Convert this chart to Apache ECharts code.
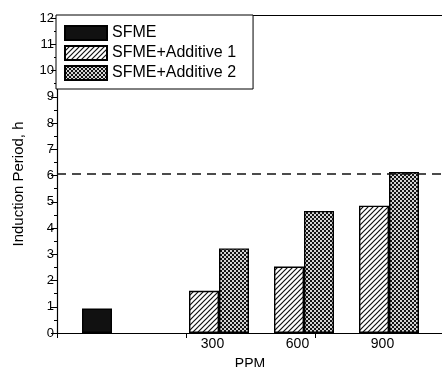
<!DOCTYPE html>
<html>
<head>
<meta charset="utf-8">
<script src="https://cdn.jsdelivr.net/npm/echarts@6/dist/echarts.min.js"></script>
<style>
html,body{margin:0;padding:0;background:#fff;}
#c{width:442px;height:367px;}
</style>
</head>
<body>
<div id="c"></div>
<script>
// ---- data ----
var seriesNames = ['SFME', 'SFME+Additive 1', 'SFME+Additive 2'];
var sfmeValue = [0.93];
var ppmCategories = ['300', '600', '900'];
var additive1 = [1.61, 2.53, 4.85];
var additive2 = [3.22, 4.65, 6.13];
var referenceLevel = 6.07;
var yTicks = { min: 0, max: 12, interval: 1 };
var yName = 'Induction Period, h';
var xName = 'PPM';

// ---- patterns ----
function hatchPattern() {
  var c = document.createElement('canvas');
  c.width = 5; c.height = 5;
  var g = c.getContext('2d');
  g.fillStyle = '#fff'; g.fillRect(0, 0, 5, 5);
  g.strokeStyle = '#111'; g.lineWidth = 1.2;
  g.beginPath();
  g.moveTo(-1, 6); g.lineTo(6, -1);
  g.moveTo(-1, 1); g.lineTo(1, -1);
  g.moveTo(4, 6); g.lineTo(6, 4);
  g.stroke();
  return c;
}
function checkerPattern() {
  var c = document.createElement('canvas');
  c.width = 4; c.height = 4;
  var g = c.getContext('2d');
  g.fillStyle = '#141414'; g.fillRect(0, 0, 4, 4);
  g.fillStyle = '#d4d4d4';
  g.fillRect(0, 0, 2, 2); g.fillRect(2, 2, 2, 2);
  return c;
}

var FONT = 'Liberation Sans, Arial, sans-serif';
var chart = echarts.init(document.getElementById('c'), null, { renderer: 'canvas' });

var sfmeAxisData = ['SFME', '', '', '', '', ''];
var sfmeData = sfmeValue.concat([null, null, null, null, null]);
var ppmAxisData = [''].concat(ppmCategories, ['']);
var add1Data = [null].concat(additive1, [null]);
var add2Data = [null].concat(additive2, [null]);

var option = {
  animation: false,
  backgroundColor: '#fff',
  textStyle: { fontFamily: FONT, color: '#000' },
  legend: {
    data: seriesNames,
    orient: 'vertical',
    left: 56, top: 15,
    padding: [10, 17, 8, 8],
    itemWidth: 42, itemHeight: 14, itemGap: 4,
    icon: 'rect',
    backgroundColor: '#fff',
    borderColor: '#000', borderWidth: 1,
    textStyle: { fontFamily: FONT, fontSize: 16, color: '#000' },
    z: 10
  },
  grid: [
    { left: 57, width: 480, top: 18, height: 315, containLabel: false, outerBoundsMode: 'none' },
    { left: 91.5, width: 425, top: 18, height: 315, containLabel: false, outerBoundsMode: 'none' }
  ],
  xAxis: [
    { // SFME position axis (grid 0)
      type: 'category', gridIndex: 0, data: sfmeAxisData, position: 'bottom',
      axisLine: { show: true, lineStyle: { color: '#000', width: 1.2 } },
      axisTick: { show: false }, axisLabel: { show: false }, splitLine: { show: false }
    },
    { // tick decoration axis (grid 0)
      type: 'value', gridIndex: 0, position: 'bottom', min: 0, max: 480 / 129, interval: 1,
      axisLine: { show: false },
      axisTick: { show: true, length: 5, lineStyle: { color: '#000', width: 1 } },
      axisLabel: { show: false }, splitLine: { show: false }
    },
    { // top frame line (grid 0)
      type: 'value', gridIndex: 0, position: 'top', offset: 3, min: 0, max: 1,
      axisLine: { show: true, lineStyle: { color: '#000', width: 1.2 } },
      axisTick: { show: false }, axisLabel: { show: false }, splitLine: { show: false }
    },
    { // PPM categories (grid 1)
      type: 'category', gridIndex: 1, data: ppmAxisData, position: 'bottom',
      axisLine: { show: false }, axisTick: { show: false },
      axisLabel: { show: true, margin: 4, fontSize: 14, color: '#000', fontFamily: FONT, padding: [0, 13, 0, 0] },
      name: xName, nameLocation: 'middle', nameGap: 24,
      nameTextStyle: { fontSize: 14, color: '#000', fontFamily: FONT, padding: [0, 108, 0, 0] },
      splitLine: { show: false }
    }
  ],
  yAxis: [
    {
      type: 'value', gridIndex: 0, min: yTicks.min, max: yTicks.max, interval: yTicks.interval,
      name: yName, nameLocation: 'middle', nameGap: 31,
      nameTextStyle: { fontSize: 15, color: '#000', fontFamily: FONT, padding: [0, 17, 0, 0] },
      axisLine: { show: true, lineStyle: { color: '#000', width: 1.2 } },
      axisTick: { show: true, length: 6, lineStyle: { color: '#000', width: 1 } },
      minorTick: { show: true, splitNumber: 2, length: 3, lineStyle: { color: '#000', width: 1 } },
      axisLabel: { fontSize: 13, color: '#000', margin: 3, fontFamily: FONT },
      splitLine: { show: false }
    },
    {
      type: 'value', gridIndex: 1, min: yTicks.min, max: yTicks.max, interval: yTicks.interval,
      show: false
    }
  ],
  series: [
    {
      name: seriesNames[0], type: 'bar', xAxisIndex: 0, yAxisIndex: 0,
      data: sfmeData, barWidth: 30,
      itemStyle: { color: '#111', borderColor: '#000', borderWidth: 1.4 },
      markLine: {
        silent: true, symbol: 'none', label: { show: false },
        lineStyle: { color: '#111', type: [9, 6], width: 1.6 },
        data: [{ yAxis: referenceLevel }]
      }
    },
    {
      name: seriesNames[1], type: 'bar', xAxisIndex: 3, yAxisIndex: 1,
      data: add1Data, barWidth: 30, barGap: '0%',
      itemStyle: { color: { image: hatchPattern(), repeat: 'repeat' }, borderColor: '#000', borderWidth: 1.4 }
    },
    {
      name: seriesNames[2], type: 'bar', xAxisIndex: 3, yAxisIndex: 1,
      data: add2Data, barWidth: 30, barGap: '0%',
      itemStyle: { color: { image: checkerPattern(), repeat: 'repeat' }, borderColor: '#000', borderWidth: 1.4 }
    }
  ]
};
chart.setOption(option);
</script>
</body>
</html>
